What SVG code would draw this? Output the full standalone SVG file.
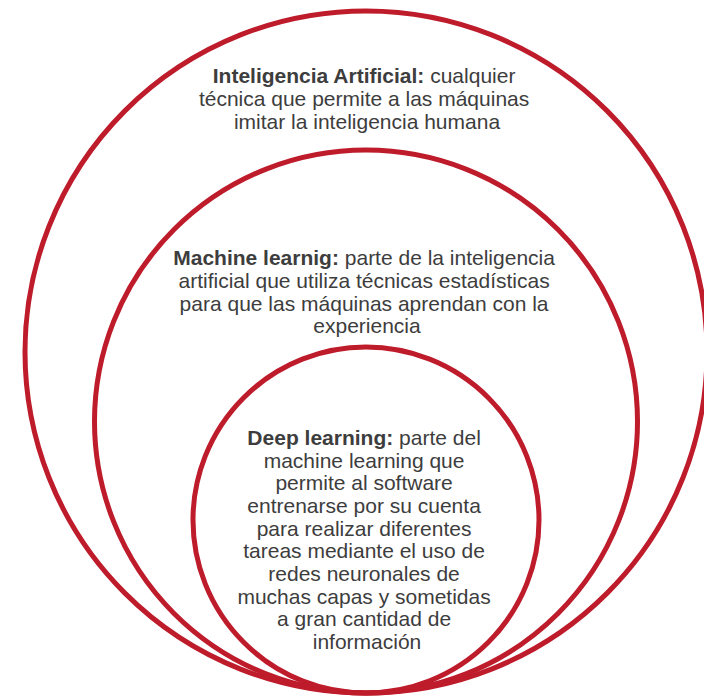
<svg xmlns="http://www.w3.org/2000/svg" width="704" height="698" viewBox="0 0 704 698">
  <style>
    .ring { fill: none; stroke: #be1b2b; stroke-width: 5; }
    .txt { font-family: "Liberation Sans", Arial, sans-serif; font-size: 21px; fill: #3d3d3d; text-anchor: middle; }
    .b { font-weight: bold; }
  </style>
  <rect width="704" height="698" fill="#ffffff"/>

  <!-- Outer ring: Artificial Intelligence -->
  <g id="ai">
    <circle class="ring" cx="366" cy="352" r="341"/>
    <text class="txt">
      <tspan x="367" y="83"><tspan class="b">Inteligencia Artificial:</tspan> cualquier</tspan>
      <tspan x="367" y="106">técnica que permite a las máquinas</tspan>
      <tspan x="367" y="129">imitar la inteligencia humana</tspan>
    </text>
  </g>

  <!-- Middle ring: Machine learning -->
  <g id="ml">
    <circle class="ring" cx="366" cy="421.5" r="271.5"/>
    <text class="txt">
      <tspan x="367" y="265"><tspan class="b">Machine learnig:</tspan> parte de la inteligencia</tspan>
      <tspan x="367" y="288">artificial que utiliza técnicas estadísticas</tspan>
      <tspan x="367" y="310.5">para que las máquinas aprendan con la</tspan>
      <tspan x="367" y="333">experiencia</tspan>
    </text>
  </g>

  <!-- Inner ring: Deep learning -->
  <g id="dl">
    <circle class="ring" cx="366" cy="520" r="173"/>
    <text class="txt">
      <tspan x="367" y="445"><tspan class="b">Deep learning:</tspan> parte del</tspan>
      <tspan x="367" y="467.7">machine learning que</tspan>
      <tspan x="367" y="490.3">permite al software</tspan>
      <tspan x="367" y="513">entrenarse por su cuenta</tspan>
      <tspan x="367" y="535.7">para realizar diferentes</tspan>
      <tspan x="367" y="558.3">tareas mediante el uso de</tspan>
      <tspan x="367" y="581">redes neuronales de</tspan>
      <tspan x="367" y="603.7">muchas capas y sometidas</tspan>
      <tspan x="367" y="626.3">a gran cantidad de</tspan>
      <tspan x="367" y="649">información</tspan>
    </text>
  </g>
</svg>
